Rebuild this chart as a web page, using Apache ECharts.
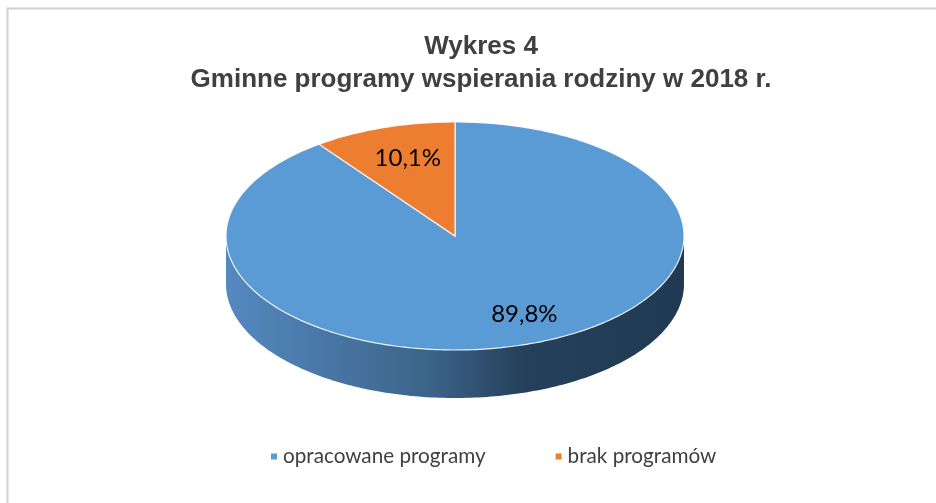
<!DOCTYPE html>
<html>
<head>
<meta charset="utf-8">
<script src="https://cdn.jsdelivr.net/npm/echarts@6/dist/echarts.min.js"></script>
<style>
  html, body { margin: 0; padding: 0; background: #fff; }
  #chart { width: 936px; height: 503px; }
</style>
</head>
<body>
<div id="chart"></div>
<script>
// data
var categories = ['opracowane programy', 'brak programów'];
var shares = [89.8, 10.1];
var colors = ['#5b9bd5', '#ed7d31'];

// pie geometry (tilted, drawn as ellipse)
var pie = { cx: 455, cy: 236, rx: 229, ry: 114, depth: 48 };
// where each label sits, as fraction of radius (x, y)
var labelFrac = [[0.97, 0.72], [0.66, 0.72]];

var total = shares.reduce(function(a, b) { return a + b; }, 0);
var startAngle = [];
var acc = 0;
for (var i = 0; i < shares.length; i++) {
  startAngle.push(acc / total * 360);
  acc += shares[i];
}

function pt(deg, dy) {
  var r = deg * Math.PI / 180;
  return [pie.cx + pie.rx * Math.sin(r), pie.cy - pie.ry * Math.cos(r) + (dy || 0)];
}
function arc(a0, a1, dy) {
  var pts = [], n = Math.max(2, Math.ceil(Math.abs(a1 - a0)));
  for (var k = 0; k <= n; k++) pts.push(pt(a0 + (a1 - a0) * k / n, dy));
  return pts;
}
function fmt(v) {
  return v.toFixed(1).replace('.', ',') + '%';
}

var sideFill = new echarts.graphic.LinearGradient(pie.cx - pie.rx, 0, pie.cx + pie.rx, 0, [
  { offset: 0, color: '#5489c0' },
  { offset: 0.45, color: '#3b6388' },
  { offset: 0.65, color: '#25405b' },
  { offset: 1, color: '#213a52' }
], true);

function topSeries(idx) {
  return {
    name: categories[idx],
    type: 'custom',
    coordinateSystem: 'none',
    itemStyle: { color: colors[idx] },
    z: 3,
    silent: true,
    data: [[shares[idx], idx]],
    renderItem: function(params, api) {
      var a0 = startAngle[idx];
      var a1 = a0 + api.value(0) / total * 360;
      var pts = [[pie.cx, pie.cy]].concat(arc(a0, a1, 0));
      var mid = (a0 + a1) / 2 * Math.PI / 180;
      return {
        type: 'group',
        children: [{
          type: 'polygon',
          shape: { points: pts },
          style: { fill: colors[idx], stroke: 'rgba(255,255,255,0.85)', lineWidth: 1.2 }
        }, {
          type: 'text',
          x: pie.cx + pie.rx * Math.sin(mid) * labelFrac[idx][0],
          y: pie.cy - pie.ry * Math.cos(mid) * labelFrac[idx][1],
          z2: 10,
          style: {
            text: fmt(api.value(0)),
            font: '24px Lato',
            fill: '#000',
            align: 'center',
            verticalAlign: 'middle'
          }
        }]
      };
    }
  };
}

var series = [{
  name: 'side',
  type: 'custom',
  coordinateSystem: 'none',
  z: 2,
  silent: true,
  data: shares.map(function(v, k) { return [v, k]; }),
  renderItem: function(params, api) {
    var k = api.value(1);
    var a0 = startAngle[k];
    var a1 = a0 + api.value(0) / total * 360;
    var lo = Math.max(a0, 90), hi = Math.min(a1, 270);
    if (hi <= lo) return { type: 'group', children: [] };
    var pts = arc(lo, hi, 0).concat(arc(hi, lo, pie.depth));
    return {
      type: 'polygon',
      shape: { points: pts },
      style: { fill: k === 0 ? sideFill : '#9c4f1c' }
    };
  }
}];
for (var s = 0; s < categories.length; s++) series.push(topSeries(s));

var chart = echarts.init(document.getElementById('chart'));
chart.setOption({
  animation: false,
  backgroundColor: '#fff',
  title: {
    text: 'Wykres 4\nGminne programy wspierania rodziny w 2018 r.',
    left: 481,
    top: 30,
    padding: 0,
    textAlign: 'center',
    textStyle: {
      fontFamily: 'Liberation Sans',
      fontSize: 26,
      fontWeight: 'bold',
      color: '#404040',
      lineHeight: 33
    }
  },
  legend: {
    data: categories,
    left: 266,
    top: 441,
    icon: 'rect',
    itemWidth: 6,
    itemHeight: 6,
    itemGap: 70,
    selectedMode: false,
    textStyle: {
      fontFamily: 'Lato',
      fontSize: 20.7,
      color: '#404040',
      padding: [0, 0, 0, 1]
    }
  },
  graphic: [{
    type: 'rect',
    shape: { x: 7.5, y: 8.5, width: 1000, height: 600 },
    style: { fill: 'none', stroke: '#d0d0d0', lineWidth: 2 },
    silent: true
  }],
  series: series
});
</script>
</body>
</html>
